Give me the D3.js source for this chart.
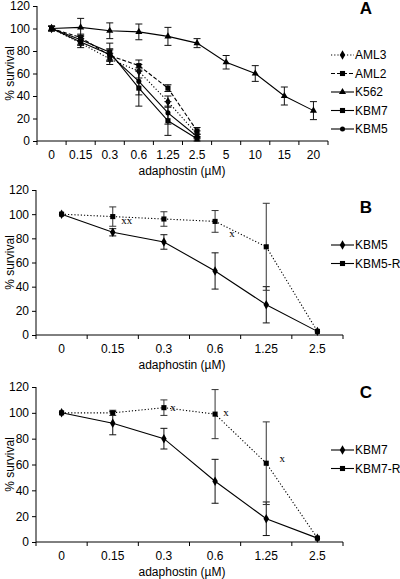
<!DOCTYPE html>
<html><head><meta charset="utf-8">
<script src="https://cdn.jsdelivr.net/npm/d3@7"></script>
<style>
body{margin:0;background:#fff;}
svg{display:block;font-family:"Liberation Sans",Arial,sans-serif;}
</style></head>
<body><svg id="c" width="400" height="579"></svg>
<script>
// ---- data ----
const catsA = ["0","0.15","0.3","0.6","1.25","2.5","5","10","15","20"];
const catsBC = ["0","0.15","0.3","0.6","1.25","2.5"];
const yTicks = [0,20,40,60,80,100,120];

const aml3 = [100, 87, 73, 62, 35, 6];
const aml3Err = [2, 4, 5, 6, 5, 3];
const aml2 = [100, 92, 76, 67, 47, 9];
const aml2Err = [2, 3, 5, 5, 3, 3];
const k562 = [100, 101, 98, 97, 93, 87, 70, 60, 40, 27];
const k562Err = [2, 8, 7, 7, 8, 4, 6, 7, 8, 8];
const kbm7A = [100, 90, 79, 47, 18, 2];
const kbm7AErr = [2, 4, 8, 16, 13, 2];
const kbm5A = [100, 88, 77, 53, 25, 4];
const kbm5AErr = [2, 3, 5, 12, 10, 2];

const kbm5B = [100, 85, 77, 53, 25, 3];
const kbm5BErr = [1, 3, 6, 15, 15, 1];
const kbm5R = [100, 98, 96, 94, 73, 3];
const kbm5RErr = [1, 8, 6, 9, 36, 1];

const kbm7C = [100, 92, 80, 47, 18, 3];
const kbm7CErr = [1, 9, 8, 17, 13, 1];
const kbm7R = [100, 100, 104, 99, 61, 3];
const kbm7RErr = [1, 2, 6, 19, 32, 1];

const notesB = [{cat:"0.15", v:94, t:"xx", dx:14},{cat:"0.6", v:84, t:"x", dx:17}];
const notesC = [{cat:"0.3", v:104, t:"x", dx:9},{cat:"0.6", v:100, t:"x", dx:11},{cat:"1.25", v:64, t:"x", dx:16}];

const svg = d3.select("#c");

function symbolFor(name){
  return {diamond:d3.symbolDiamond, square:d3.symbolSquare, triangle:d3.symbolTriangle, circle:d3.symbolCircle}[name];
}
const dashes = {dotted:"1.2,2", dashed:"4,2", solid:null};

function panel(opt){
  const g = svg.append("g");
  const x = d3.scaleBand().domain(opt.cats).range([opt.x0, opt.x1]);
  const y = d3.scaleLinear().domain([0,120]).range([opt.y0, opt.yTop]);
  // y axis
  const ya = g.append("g").attr("transform",`translate(${opt.x0},0)`)
    .call(d3.axisLeft(y).tickValues(yTicks).tickSize(4).tickPadding(3));
  ya.select(".domain").attr("d",`M-0,${opt.yTop}V${opt.y0}`);
  ya.selectAll("text").attr("font-size",12).attr("fill","#000").attr("font-family","Liberation Sans, Arial, sans-serif");
  // x axis
  const xa = g.append("g").attr("transform",`translate(0,${opt.y0})`);
  xa.append("line").attr("x1",opt.x0).attr("x2",opt.x1).attr("stroke","#000");
  const bounds = opt.cats.map((c)=>x(c)).concat([opt.x1]);
  xa.selectAll("line.t").data(bounds).enter().append("line").attr("class","t")
    .attr("x1",d=>d).attr("x2",d=>d).attr("y1",0).attr("y2",4).attr("stroke","#000");
  xa.selectAll("text").data(opt.cats).enter().append("text")
    .attr("x",d=>x(d)+x.bandwidth()/2).attr("y",18).attr("text-anchor","middle")
    .attr("font-size",12).text(d=>d);
  g.append("text").attr("x",opt.labelX).attr("y",opt.y0+34).attr("text-anchor","middle")
    .attr("font-size",12).text("adaphostin (\u00b5M)");
  g.append("text").attr("transform",`translate(14,${(opt.y0+opt.yTop)/2}) rotate(-90)`)
    .attr("text-anchor","middle").attr("font-size",12).text("% survival");
  // panel letter
  g.append("text").attr("x",366).attr("y",opt.letterY).attr("text-anchor","middle")
    .attr("font-size",17).attr("font-weight","bold").text(opt.letter);

  const cx = c => x(c)+x.bandwidth()/2;
  // series
  opt.series.forEach(s=>{
    const pts = s.vals.map((v,i)=>({c:opt.cats[i], v, e:s.err[i]}));
    const line = d3.line().x(d=>cx(d.c)).y(d=>y(d.v));
    g.append("path").datum(pts).attr("d",line).attr("fill","none")
      .attr("stroke","#000").attr("stroke-width",1.1).attr("stroke-dasharray",dashes[s.style]);
    const eb = g.append("g").attr("stroke",s.ebColor||"#111").attr("stroke-width",1);
    pts.forEach(d=>{
      if(d.e<=1.5) return;
      eb.append("line").attr("x1",cx(d.c)).attr("x2",cx(d.c)).attr("y1",y(d.v-d.e)).attr("y2",y(d.v+d.e));
      [d.v-d.e,d.v+d.e].forEach(vv=>eb.append("line").attr("x1",cx(d.c)-3.5).attr("x2",cx(d.c)+3.5).attr("y1",y(vv)).attr("y2",y(vv)));
    });
    g.selectAll(null).data(pts).enter().append("path")
      .attr("d",d3.symbol().type(symbolFor(s.marker)).size(s.size||26))
      .attr("transform",d=>`translate(${cx(d.c)},${y(d.v)})`).attr("fill","#000");
  });
  // notes
  (opt.notes||[]).forEach(n=>{
    g.append("text").attr("x",cx(n.cat)+n.dx).attr("y",y(n.v)+3).attr("text-anchor","middle")
      .attr("font-family","Liberation Serif, Times New Roman, serif").attr("font-size",11).text(n.t);
  });
  // legend
  opt.legend.forEach((s,i)=>{
    const ly = opt.legY + i*opt.legStep;
    g.append("line").attr("x1",opt.legX).attr("x2",opt.legX+23).attr("y1",ly).attr("y2",ly)
      .attr("stroke","#000").attr("stroke-width",1.1).attr("stroke-dasharray",opt.legSolid?null:dashes[s.style]);
    g.append("path").attr("d",d3.symbol().type(symbolFor(s.marker)).size(s.size||26))
      .attr("transform",`translate(${opt.legX+11.5},${ly})`).attr("fill","#000");
    g.append("text").attr("x",opt.legX+24).attr("y",ly+4).attr("font-size",12).text(s.name);
  });
}

const serA = [
  {name:"AML3", vals:aml3, err:aml3Err, marker:"diamond", style:"dotted"},
  {name:"AML2", vals:aml2, err:aml2Err, marker:"square", style:"dashed"},
  {name:"K562", vals:k562, err:k562Err, marker:"triangle", style:"solid", size:22},
  {name:"KBM7", vals:kbm7A, err:kbm7AErr, marker:"square", style:"solid"},
  {name:"KBM5", vals:kbm5A, err:kbm5AErr, marker:"circle", style:"solid", size:20}
];
panel({cats:catsA, x0:37, x1:328, y0:141, yTop:6, labelX:182, letter:"A", letterY:14,
  series:serA, legend:serA, legX:331, legY:55, legStep:18.5});

const serB = [
  {name:"KBM5", vals:kbm5B, err:kbm5BErr, marker:"diamond", style:"solid"},
  {name:"KBM5-R", vals:kbm5R, err:kbm5RErr, marker:"square", style:"dotted", ebColor:"#333"}
];
panel({cats:catsBC, x0:36, x1:343, y0:335, yTop:190, labelX:182, letter:"B", letterY:213,
  series:serB, legend:serB, legX:331, legY:245, legStep:18.5, legSolid:true, notes:notesB});

const serC = [
  {name:"KBM7", vals:kbm7C, err:kbm7CErr, marker:"diamond", style:"solid"},
  {name:"KBM7-R", vals:kbm7R, err:kbm7RErr, marker:"square", style:"dotted", ebColor:"#333"}
];
panel({cats:catsBC, x0:36, x1:343, y0:542, yTop:387, labelX:182, letter:"C", letterY:398,
  series:serC, legend:serC, legX:331, legY:450, legStep:18.5, legSolid:true, notes:notesC});
</script></body></html>
